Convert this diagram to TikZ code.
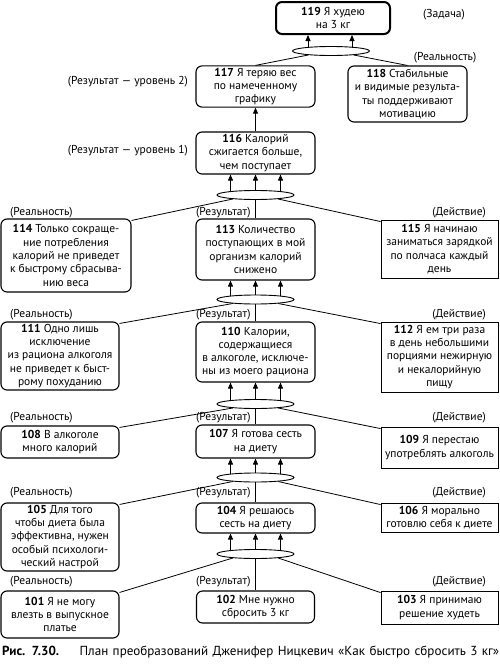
\documentclass[tikz,border=0pt]{standalone}
\usepackage{fontspec}
\setmainfont{PT Sans}
\usetikzlibrary{arrows.meta,shapes.geometric}
\begin{document}
\begin{tikzpicture}[x=1pt,y=-1pt,
  txt/.style={font=\fontsize{11.5}{13.3}\selectfont, align=center},
  rbox/.style={txt, draw, line width=1.1pt, rounded corners=6pt, inner sep=2pt},
  sbox/.style={txt, draw, line width=0.85pt, inner sep=2pt},
  sz/.style 2 args={minimum width=#1pt, minimum height=#2pt},
  oval/.style={draw, ellipse, line width=0.9pt, minimum width=77pt, minimum height=9pt, inner sep=0pt, fill=white},
  lbl/.style={font=\fontsize{11.5}{13.3}\selectfont, inner sep=0pt},
  ln/.style={line width=0.8pt},
  arr/.style={line width=0.9pt, -{Triangle[length=6pt,width=5pt]}},
]
\useasboundingbox (0,0) rectangle (500,667);

% ---- top
\node[rbox, line width=2pt, sz={114}{32}] (b119) at (333,18) {\textbf{119} Я худею\\на 3 кг};
\node[lbl] (lz) at (444,15) {(Задача)};
\node[oval] (e1) at (331,51) {};
\node[rbox, sz={119}{41}] (b117) at (255.5,86.5) {\textbf{117} Я теряю вес\\по намеченному\\графику};
\node[rbox, sz={119}{56}] (b118) at (407.5,94) {\textbf{118} Стабильные\\и видимые результа-\\ты поддерживают\\мотивацию};
\node[lbl, anchor=east] (l117) at (188,82) {(Результат — уровень 2)};
\node[lbl] (l118) at (445,58) {(Реальность)};

\node[rbox, sz={119}{42}] (b116) at (255.5,153) {\textbf{116} Калорий\\сжигается больше,\\чем поступает};
\node[lbl, anchor=east] (l116) at (188,151) {(Результат — уровень 1)};

% ---- row D
\node[oval] (e2) at (255.5,195) {};
\node[lbl, anchor=west] (l114) at (10,213) {(Реальность)};
\node[lbl, anchor=west] (l113) at (196,213) {(Результат)};
\node[lbl, anchor=east] (l115) at (486,213) {(Действие)};
\node[rbox, sz={130}{73}] (b114) at (66,255.5) {\textbf{114} Только сокраще-\\ние потребления\\калорий не приведет\\к быстрому сбрасыва-\\нию веса};
\node[rbox, sz={119}{61}] (b113) at (255.5,249.5) {\textbf{113} Количество\\поступающих в мой\\организм калорий\\снижено};
\node[sbox, sz={117}{58}] (b115) at (439.5,249) {\textbf{115} Я начинаю\\заниматься зарядкой\\по полчаса каждый\\день};

% ---- row E
\node[oval] (e3) at (255.5,299.5) {};
\node[lbl, anchor=west] (l111) at (10,315) {(Реальность)};
\node[lbl, anchor=west] (l110) at (196,315) {(Результат)};
\node[lbl, anchor=east] (l112) at (486,315) {(Действие)};
\node[rbox, sz={118}{68}] (b111) at (60,356) {\textbf{111} Одно лишь\\исключение\\из рациона алкоголя\\не приведет к быст-\\рому похуданию};
\node[rbox, sz={119}{60}] (b110) at (255.5,352) {\textbf{110} Калории,\\содержащиеся\\в алкоголе, исключе-\\ны из моего рациона};
\node[sbox, sz={117}{70}] (b112) at (439.5,357) {\textbf{112} Я ем три раза\\в день небольшими\\порциями нежирную\\и некалорийную\\пищу};

% ---- row F
\node[oval] (e4) at (255.5,404) {};
\node[lbl, anchor=west] (l108) at (10,418) {(Реальность)};
\node[lbl, anchor=west] (l107) at (196,418) {(Результат)};
\node[lbl, anchor=east] (l109) at (486,418) {(Действие)};
\node[rbox, sz={118}{32}] (b108) at (60,442) {\textbf{108} В алкоголе\\много калорий};
\node[rbox, sz={119}{33}] (b107) at (255.5,441.5) {\textbf{107} Я готова сесть\\на диету};
\node[sbox, sz={117}{41}] (b109) at (439.5,447.5) {\textbf{109} Я перестаю\\употреблять алкоголь};

% ---- row G
\node[oval] (e5) at (255.5,477.5) {};
\node[lbl, anchor=west] (l105) at (10,493) {(Реальность)};
\node[lbl, anchor=west] (l104) at (196,493) {(Результат)};
\node[lbl, anchor=east] (l106) at (486,493) {(Действие)};
\node[rbox, sz={118}{68}] (b105) at (60,537) {\textbf{105} Для того\\чтобы диета была\\эффективна, нужен\\особый психологи-\\ческий настрой};
\node[rbox, sz={119}{30}] (b104) at (255.5,518) {\textbf{104} Я решаюсь\\сесть на диету};
\node[sbox, sz={117}{29}] (b106) at (439.5,517.5) {\textbf{106} Я морально\\готовлю себя к диете};

% ---- row H
\node[oval] (e6) at (255.5,554) {};
\node[lbl, anchor=west] (l101) at (10,582) {(Реальность)};
\node[lbl, anchor=west] (l102) at (196,582) {(Результат)};
\node[lbl, anchor=east] (l103) at (486,582) {(Действие)};
\node[rbox, sz={118}{47}] (b101) at (60,614.5) {\textbf{101} Я не могу\\влезть в выпускное\\платье};
\node[rbox, sz={118}{32}] (b102) at (255.5,607) {\textbf{102} Мне нужно\\сбросить 3 кг};
\node[sbox, sz={117}{33}] (b103) at (439.5,607.5) {\textbf{103} Я принимаю\\решение худеть};

% ---- caption
\node[font=\fontsize{13.1}{15}\selectfont, anchor=west, text width=497pt, inner sep=0pt] (cap) at (2,652)
  {\noindent\textbf{Рис. 7.30.}\hfill План преобразований Дженифер Ницкевич «Как быстро сбросить 3 кг»};

% ---- connectors
% top
\draw[arr] ([xshift=-23pt,yshift=-1.5pt]e1.north) -- ([xshift=-25pt]b119.south);
\draw[arr] ([xshift=21pt,yshift=-1.5pt]e1.north) -- ([xshift=19pt]b119.south);
\draw[ln] (e1.190) -- (b117.north);
\draw[ln] (e1.350) -- (b118.north);
\draw[arr] (b116.north) -- (b117.south);

% generic rows
\foreach \e/\top/\l/\m/\r in {e2/b116/b114/b113/b115, e3/b113/b111/b110/b112, e4/b110/b108/b107/b109, e5/b107/b105/b104/b106, e6/b104/b101/b102/b103}{
  \draw[arr] ([xshift=-25pt,yshift=-1.5pt]\e.north) -- ([xshift=-25pt]\top.south);
  \draw[arr] (\e.north) -- (\top.south);
  \draw[arr] ([xshift=25pt,yshift=-1.5pt]\e.north) -- ([xshift=25pt]\top.south);
  \draw[ln] (\e.190) -- ([yshift=-2pt]\l.north east);
  \draw[ln] (\e.350) -- ([yshift=-2pt]\r.north west);
  \draw[ln] (\e.south) -- (\m.north);
}
\end{tikzpicture}
\end{document}
